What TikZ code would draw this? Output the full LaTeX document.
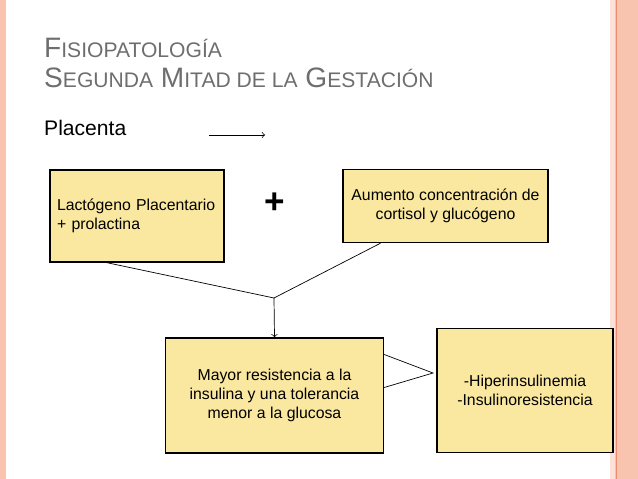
\documentclass[tikz,border=0pt]{standalone}
\usepackage{fontspec}
\setmainfont{Liberation Sans}
\definecolor{boxfill}{RGB}{250,232,160}
\definecolor{salmon}{RGB}{248,196,176}
\definecolor{salmonline}{RGB}{236,140,110}
\definecolor{titlegray}{RGB}{110,110,110}
\begin{document}
\begin{tikzpicture}[x={(0.02cm,0)}, y={(0,-0.02cm)},
  yellowbox/.style={draw, thick, fill=boxfill, inner sep=0pt, font=\fontsize{9}{11}\selectfont, align=center}]
    \useasboundingbox (0,0) rectangle (638,479);
    % Bordes
    \fill[salmon] (0,0) rectangle (6,479);
    \fill[salmon!50] (610,0) rectangle (615,479);
    \fill[salmon] (615,0) rectangle (638,479);
    \draw[salmonline] (616,0) -- (616,479);
    % Titulo
    \node[anchor=base west, text=titlegray, font=\fontsize{16}{18}\selectfont] (tit1) at (38,58) {F{\fontsize{12}{14}\selectfont ISIOPATOLOGÍA}};
    \node[anchor=base west, text=titlegray, font=\fontsize{16}{18}\selectfont] (tit2) at (38,88) {S{\fontsize{12}{14}\selectfont EGUNDA} M{\fontsize{12}{14}\selectfont ITAD DE LA} G{\fontsize{12}{14}\selectfont ESTACIÓN}};
    \node[anchor=base west, font=\fontsize{12}{14}\selectfont] (plac) at (38,136) {Placenta};
    \coordinate (pa) at (209,135);
    \coordinate (pb) at (265,135);
    \draw[->] (pa) -- (pb);
    % Cajas
    \node[yellowbox, minimum width=174*0.02cm, minimum height=92*0.02cm, align=left, text width=160*0.02cm] (lact) at (137,216) {Lactógeno Placentario\\+ prolactina};
    \node[yellowbox, minimum width=205*0.02cm, minimum height=73*0.02cm] (aum) at (445.5,206) {Aumento concentración de\\cortisol y glucógeno};
    \node[yellowbox, minimum width=218*0.02cm, minimum height=115*0.02cm] (mayor) at (274.5,395.5) {Mayor resistencia a la\\insulina y una tolerancia\\menor a la glucosa};
    \node[yellowbox, minimum width=176*0.02cm, minimum height=124*0.02cm] (hiper) at (525,390.5) {-Hiperinsulinemia\\-Insulinoresistencia};
    % Suma
    \node[font=\fontsize{20}{20}\selectfont\bfseries] (plus) at (275,203) {\textbf{+}};
    % Conectores
    \coordinate (junta) at (274,298);
    \draw (lact.south) ++(-30,0) -- (junta);
    \draw (aum.south) ++(-65,0) -- (junta);
    \draw[->] (junta) -- (mayor.north);
    \coordinate (tri) at (433,373);
    \draw (mayor.east) ++(0,-41) -- (tri) -- ([yshift=-0.02cm*(-8)]mayor.east);
\end{tikzpicture}
\end{document}
